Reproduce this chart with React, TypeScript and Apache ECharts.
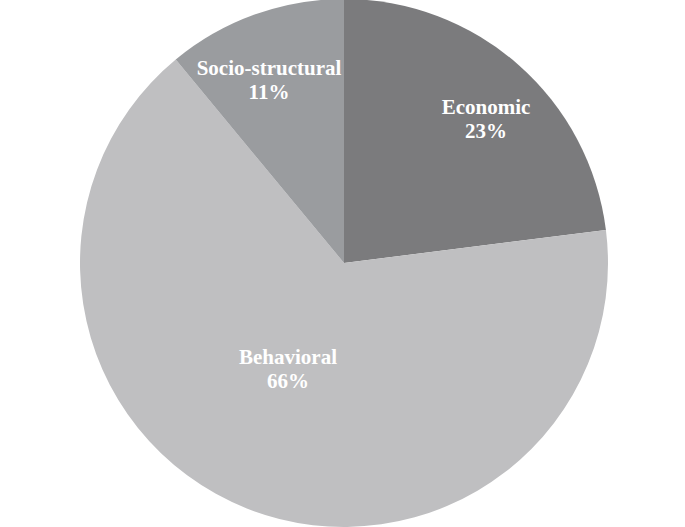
import React, { useEffect, useRef } from "react";
import * as echarts from "echarts";

const categories = ["Economic", "Behavioral", "Socio-structural"];
const values = [23, 66, 11];
const colors = ["#7b7b7d", "#bfbfc1", "#9a9c9f"];
const labelSpots = [
  [486, 119],
  [288, 369],
  [269, 80],
];

export default function App() {
  const ref = useRef<HTMLDivElement>(null);
  useEffect(() => {
    if (!ref.current) return;
    const chart = echarts.init(ref.current, null, { renderer: "svg" });
    chart.setOption({
      animation: false,
      backgroundColor: "#ffffff",
      series: [
        {
          type: "pie",
          center: [344, 263],
          radius: [0, 264],
          startAngle: 90,
          clockwise: true,
          silent: true,
          avoidLabelOverlap: false,
          itemStyle: { borderWidth: 0 },
          emphasis: { disabled: true },
          label: {
            show: true,
            position: "inside",
            color: "#ffffff",
            fontFamily: "Liberation Serif",
            fontWeight: "bold",
            fontSize: 21,
            lineHeight: 24,
            align: "center",
            formatter: (p: any) => `${p.name}\n${Math.round(p.percent)}%`,
          },
          labelLine: { show: false },
          labelLayout: (p: any) => ({
            x: labelSpots[p.dataIndex][0],
            y: labelSpots[p.dataIndex][1],
            align: "center",
            verticalAlign: "middle",
          }),
          data: categories.map((name, i) => ({
            name,
            value: values[i],
            itemStyle: { color: colors[i] },
          })),
        },
      ],
    });
    return () => chart.dispose();
  }, []);
  return (
    <div
      ref={ref}
      style={{ position: "fixed", left: 0, top: 0, width: 685, height: 527 }}
    />
  );
}
